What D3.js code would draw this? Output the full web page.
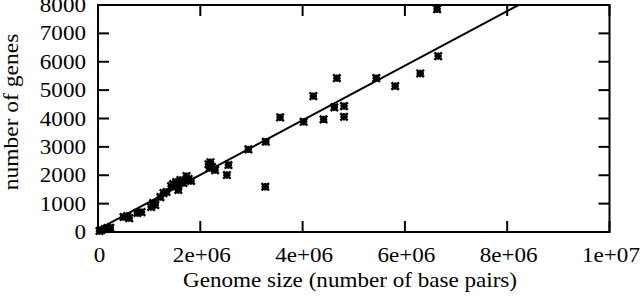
<!DOCTYPE html>
<html lang="en">
<head>
<meta charset="UTF-8">
<title>Genome size vs number of genes</title>
<script src="https://d3js.org/d3.v7.min.js"></script>
<style>
  body { margin: 0; background: #fff; }
  .lbl { font-family: "Liberation Serif", "Times New Roman", serif; font-size: 21px; fill: #000; }
</style>
</head>
<body>
<svg id="main" width="640" height="296"></svg>
<script>
// genome sizes (base pairs) and gene counts
let genomeSize = [
  0.03e6, 0.07e6, 0.13e6, 0.18e6, 0.24e6,
  0.50e6, 0.57e6, 0.61e6, 0.77e6, 0.85e6,
  1.04e6, 1.08e6, 1.12e6, 1.22e6, 1.28e6, 1.34e6,
  1.43e6, 1.47e6, 1.53e6, 1.57e6, 1.57e6, 1.61e6, 1.67e6, 1.73e6, 1.77e6, 1.82e6,
  2.16e6, 2.18e6, 2.20e6, 2.23e6, 2.29e6,
  2.52e6, 2.55e6, 2.94e6, 3.27e6, 3.28e6, 3.56e6,
  4.02e6, 4.21e6, 4.41e6, 4.62e6, 4.67e6, 4.81e6, 4.81e6,
  5.44e6, 5.81e6, 6.30e6, 6.63e6, 6.65e6
];
let geneCount = [
  35, 70, 105, 140, 150,
  528, 563, 490, 670, 700,
  880, 1020, 950, 1230, 1370, 1410,
  1620, 1690, 1760, 1620, 1480, 1830, 1725, 1970, 1870, 1800,
  2390, 2250, 2460, 2290, 2180,
  2007, 2359, 2912, 1595, 3180, 4039,
  3884, 4789, 3968, 4391, 5423, 4437, 4060,
  5423, 5141, 5588, 7852, 6197
];
// fitted line: genes = slope * size + intercept
let fitSlope = 0.000962;
let fitIntercept = 90;

let xTicks = [0, 2e6, 4e6, 6e6, 8e6, 1e7];
let xTickLabels = ['0', '2e+06', '4e+06', '6e+06', '8e+06', '1e+07'];
let yTicks = [0, 1000, 2000, 3000, 4000, 5000, 6000, 7000, 8000];

let svg = d3.select('svg#main');
let pLeft = 98, pRight = 609.5, pTop = 5, pBottom = 232;
let xScale = d3.scaleLinear().domain([0, 1e7]).range([pLeft, pRight]);
let yScale = d3.scaleLinear().domain([0, 8000]).range([pBottom, pTop]);
let tickLen = 11;
let stretch = 1.1;   // the original face is a bit wider than Liberation Serif

// ticks (inward, mirrored)
let g = svg.append('g').attr('stroke', '#000').attr('stroke-width', 2);
xTicks.forEach(function(t){
    g.append('line').attr('x1', xScale(t)).attr('x2', xScale(t)).attr('y1', pBottom).attr('y2', pBottom - tickLen);
    g.append('line').attr('x1', xScale(t)).attr('x2', xScale(t)).attr('y1', pTop).attr('y2', pTop + tickLen);
});
yTicks.forEach(function(t){
    g.append('line').attr('x1', pLeft).attr('x2', pLeft + tickLen).attr('y1', yScale(t)).attr('y2', yScale(t));
    g.append('line').attr('x1', pRight).attr('x2', pRight - tickLen).attr('y1', yScale(t)).attr('y2', yScale(t));
});

// tick labels
svg.selectAll('text.xt').data(xTicks).enter().append('text')
    .attr('class', 'lbl xt')
    .attr('transform', function(d){return 'translate(' + (xScale(d) + 1.5) + ',262) scale(' + stretch + ',1)';})
    .attr('text-anchor', 'middle')
    .text(function(d, i){return xTickLabels[i];});
svg.selectAll('text.yt').data(yTicks).enter().append('text')
    .attr('class', 'lbl yt')
    .attr('transform', function(d){return 'translate(86,' + (yScale(d) + 7) + ') scale(' + stretch + ',1)';})
    .attr('text-anchor', 'end')
    .text(function(d){return d;});

// axis titles
svg.append('text').attr('class', 'lbl')
    .attr('transform', 'translate(350,287) scale(' + stretch + ',1)')
    .attr('text-anchor', 'middle')
    .text('Genome size (number of base pairs)');
svg.append('text').attr('class', 'lbl')
    .attr('transform', 'translate(18,112) rotate(-90) scale(1.12,1)')
    .attr('text-anchor', 'middle')
    .text('number of genes');

// clip for the fit line
svg.append('clipPath').attr('id', 'plotclip')
    .append('rect').attr('x', pLeft).attr('y', pTop).attr('width', pRight - pLeft).attr('height', pBottom - pTop);

let xEnd = (8000 - fitIntercept) / fitSlope;
svg.append('line')
    .attr('clip-path', 'url(#plotclip)')
    .attr('x1', xScale(0)).attr('y1', yScale(fitIntercept))
    .attr('x2', xScale(xEnd)).attr('y2', yScale(8000))
    .attr('stroke', '#000').attr('stroke-width', 2);

// points: asterisk markers (+ and x)
let pts = d3.zip(genomeSize, geneCount);
let s = 3.7;
let marks = svg.append('g').attr('stroke', '#000').attr('stroke-width', 2.4);
pts.forEach(function(p){
    let cx = xScale(p[0]), cy = yScale(p[1]);
    marks.append('path')
        .attr('d', 'M' + (cx - s) + ',' + cy + 'H' + (cx + s) +
                   'M' + cx + ',' + (cy - s) + 'V' + (cy + s) +
                   'M' + (cx - s) + ',' + (cy - s) + 'L' + (cx + s) + ',' + (cy + s) +
                   'M' + (cx - s) + ',' + (cy + s) + 'L' + (cx + s) + ',' + (cy - s));
});

// frame
svg.append('rect').attr('x', pLeft).attr('y', pTop).attr('width', pRight - pLeft).attr('height', pBottom - pTop)
    .attr('fill', 'none').attr('stroke', '#000').attr('stroke-width', 2);
</script>
</body>
</html>
